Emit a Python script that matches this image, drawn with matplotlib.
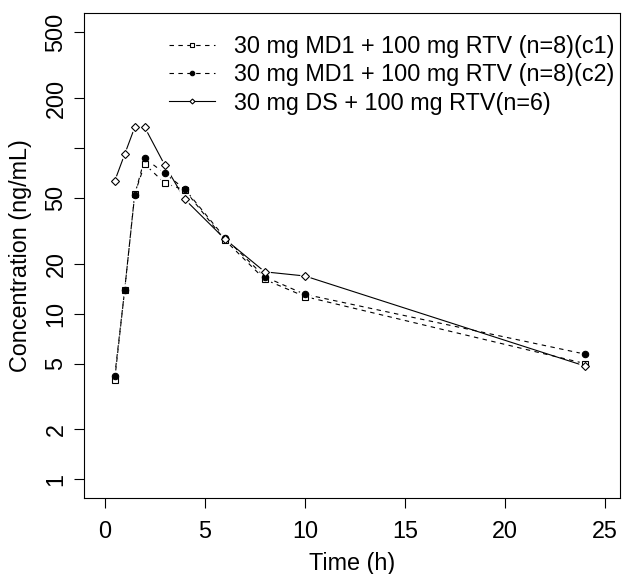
import matplotlib
matplotlib.use('Agg')
from matplotlib import pyplot as plt
from matplotlib.ticker import FixedLocator, NullLocator
import numpy as np

# nominal sampling times (h)
times = [0.5, 1, 1.5, 2, 3, 4, 6, 8, 10, 24]

# mean concentrations (ng/mL)
conc_c1 = [4.0, 14.0, 53.0, 80.0, 61.5, 55.8, 27.9, 16.1, 12.7, 5.0]
conc_c2 = [4.2, 14.0, 52.3, 86.8, 70.4, 56.6, 28.8, 16.7, 13.1, 5.7]
conc_ds = [63.3, 92.0, 133.6, 133.6, 79.0, 49.1, 28.3, 17.9, 16.9, 4.83]

labels = ['30 mg MD1 + 100 mg RTV (n=8)(c1)',
          '30 mg MD1 + 100 mg RTV (n=8)(c2)',
          '30 mg DS + 100 mg RTV(n=6)']

yticks = [1, 2, 5, 10, 20, 50, 100, 200, 500]
yticklabels = ['1', '2', '5', '10', '20', '50', '', '200', '500']
xticks = [0, 5, 10, 15, 20, 25]


def main():
    plt.rcParams['font.family'] = ['Liberation Sans', 'DejaVu Sans']
    fs = 16.8
    fig = plt.figure(figsize=(6.22, 5.74), dpi=100)
    ax = fig.add_axes([0.1352, 0.1329, 0.8617, 0.8439])

    series = [
        (conc_c1, 's', 'white', 5.0, (0, (4, 4))),
        (conc_c2, 'o', 'black', 4.6, (0, (4, 4))),
        (conc_ds, 'D', 'white', 3.6, '-'),
    ]
    handles = []
    for conc, mk, fc, ms, ls in series:
        ax.plot(times, conc, color='black', lw=0.8, ls=ls, zorder=1)
        # white halo so lines stop short of the points (R type="b")
        ax.plot(times, conc, ls='none', marker='o', ms=ms + 4,
                mfc='white', mec='none', zorder=2)
        ax.plot(times, conc, ls='none', marker=mk, ms=ms, mfc=fc,
                mec='black', mew=0.8, zorder=3)
        h, = ax.plot([], [], color='black', lw=0.8, ls=ls, marker=mk,
                     ms=ms * 0.7, mfc=fc, mec='black', mew=0.8)
        handles.append(h)

    ax.set_yscale('log')
    ax.set_ylim(0.774, 652)
    ax.set_xlim(-1.03, 25.75)
    ax.yaxis.set_major_locator(FixedLocator(yticks))
    ax.yaxis.set_minor_locator(NullLocator())
    ax.set_yticklabels(yticklabels, rotation=90, va='center')
    ax.set_xticks(xticks)
    ax.tick_params(length=7, width=0.8, labelsize=fs)
    ax.tick_params(axis='x', pad=9)
    ax.tick_params(axis='y', pad=5)

    for sp in ax.spines.values():
        sp.set_linewidth(0.8)

    ax.set_xlabel('Time (h)', fontsize=fs, labelpad=6.5)
    ax.set_ylabel('Concentration (ng/mL)', fontsize=fs, labelpad=9)

    ax.legend(handles, labels, loc='upper right',
              bbox_to_anchor=(0.9887, 0.9385),
              bbox_transform=fig.transFigure, frameon=False,
              fontsize=fs, handlelength=1.96, handletextpad=0.83,
              labelspacing=0.22, borderaxespad=0, borderpad=0)

    plt.savefig('out.png', dpi=100)


if __name__ == '__main__':
    main()
